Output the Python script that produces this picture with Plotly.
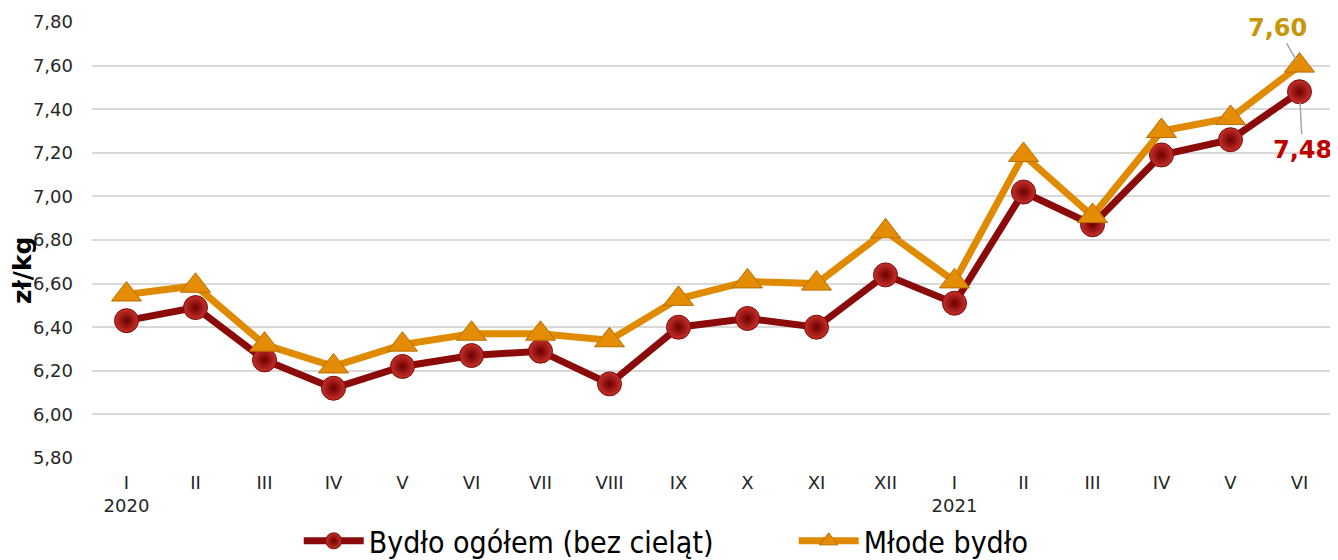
import plotly.graph_objects as go

months = ["I", "II", "III", "IV", "V", "VI", "VII", "VIII", "IX", "X", "XI", "XII",
          "I", "II", "III", "IV", "V", "VI"]
tick_labels = ["I<br>2020", "II", "III", "IV", "V", "VI", "VII", "VIII", "IX", "X", "XI", "XII",
               "I<br>2021", "II", "III", "IV", "V", "VI"]
bydlo_ogolem = [6.43, 6.49, 6.25, 6.12, 6.22, 6.27, 6.29, 6.14, 6.40, 6.44, 6.40, 6.64,
                6.51, 7.02, 6.87, 7.19, 7.26, 7.48]
mlode_bydlo = [6.55, 6.59, 6.32, 6.22, 6.32, 6.37, 6.37, 6.34, 6.53, 6.61, 6.60, 6.84,
               6.61, 7.19, 6.91, 7.30, 7.36, 7.60]
y_ticks = [5.8, 6.0, 6.2, 6.4, 6.6, 6.8, 7.0, 7.2, 7.4, 7.6, 7.8]

x = list(range(len(months)))
FONT = "Verdana, DejaVu Sans, sans-serif"

fig = go.Figure()
fig.add_trace(go.Scatter(
    x=x, y=bydlo_ogolem, name="Bydło ogółem (bez cieląt)",
    mode="lines+markers",
    line=dict(color="#8b0a0a", width=7),
    marker=dict(symbol="circle", size=24, color="#c8302a",
                gradient=dict(type="radial", color="#6a0000"),
                line=dict(color="#7a0a0a", width=1)),
))
fig.add_trace(go.Scatter(
    x=x, y=mlode_bydlo, name="Młode bydło",
    mode="lines+markers",
    line=dict(color="#e08a00", width=7),
    marker=dict(symbol="triangle-up", size=26, color="#e58c05",
                line=dict(color="#b86e00", width=1)),
))

last = len(months) - 1
fig.add_annotation(x=last, y=mlode_bydlo[-1], text="<b>%.2f</b>" % mlode_bydlo[-1],
                   showarrow=True, arrowhead=0, arrowwidth=1.5, arrowcolor="#a6a6a6",
                   ax=-22, ay=-38, standoff=6,
                   font=dict(family=FONT, size=24, color="#c9960a"))
fig.add_annotation(x=last, y=bydlo_ogolem[-1], text="<b>%.2f</b>" % bydlo_ogolem[-1],
                   showarrow=True, arrowhead=0, arrowwidth=1.5, arrowcolor="#a6a6a6",
                   ax=3, ay=58, standoff=11,
                   font=dict(family=FONT, size=24, color="#c00000"))
for a in fig.layout.annotations:
    a.text = a.text.replace(".", ",")

fig.add_annotation(xref="paper", yref="paper", x=-0.0564, y=0.431,
                   xanchor="center", yanchor="middle",
                   text="<b>zł/kg</b>", textangle=-90, showarrow=False,
                   font=dict(family=FONT, size=25, color="#000000"))

fig.update_layout(
    width=1330, height=552,
    margin=dict(l=84, r=4, t=14, b=102, autoexpand=False),
    paper_bgcolor="white", plot_bgcolor="white",
    separators=", ",
    showlegend=True,
    legend=dict(orientation="h", x=0.565, xanchor="center", y=-0.19, yanchor="middle",
                font=dict(family="DejaVu Sans Condensed, DejaVu Sans, sans-serif", size=30,
                          color="#000000"),
                itemwidth=60, entrywidth=420, tracegroupgap=0),
    font=dict(family=FONT, color="#262626"),
)
fig.update_xaxes(tickmode="array", tickvals=x, ticktext=tick_labels, automargin=False,
                 range=[-0.5, len(months) - 0.5], showgrid=False, zeroline=False,
                 showline=False, ticks="", ticklabelstandoff=12,
                 tickfont=dict(family=FONT, size=18, color="#262626"))
fig.update_yaxes(range=[5.8, 7.8], tickmode="array", tickvals=y_ticks, automargin=False,
                 tickformat=".2f", showgrid=True, gridcolor="#d9d9d9", gridwidth=2,
                 zeroline=False, showline=False, ticks="", ticklabelstandoff=18,
                 tickfont=dict(family=FONT, size=18, color="#262626"))

fig.write_html("out.html")
